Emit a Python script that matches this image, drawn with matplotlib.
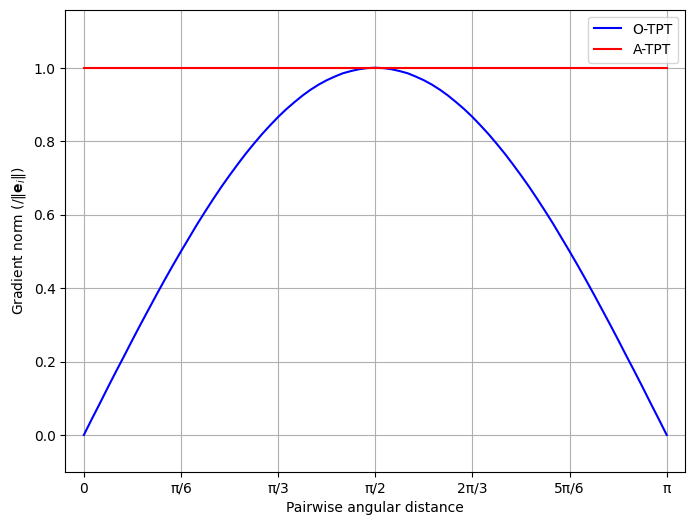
import numpy as np
import matplotlib.pyplot as plt

# ===========================
# DATA
# ===========================
angle_deg = [0, 2.5, 5, 7.5, 10, 12.5, 15, 17.5, 20, 22.5, 25, 27.5, 30, 32.5, 35, 37.5,
             40, 42.5, 45, 47.5, 50, 52.5, 55, 57.5, 60, 62.5, 65, 67.5, 70, 72.5, 75,
             77.5, 80, 82.5, 85, 87.5, 90,
             92.5, 95, 97.5, 100, 102.5, 105, 107.5, 110, 112.5, 115, 117.5, 120, 122.5,
             125, 127.5, 130, 132.5, 135, 137.5, 140, 142.5, 145, 147.5, 150, 152.5, 155,
             157.5, 160, 162.5, 165, 167.5, 170, 172.5, 175, 177.5, 180]
o_tpt = [0.000, 0.044, 0.087, 0.131, 0.174, 0.216, 0.259, 0.301, 0.342, 0.383, 0.423,
         0.462, 0.500, 0.537, 0.574, 0.609, 0.643, 0.676, 0.707, 0.737, 0.766, 0.793,
         0.819, 0.843, 0.866, 0.887, 0.906, 0.924, 0.940, 0.954, 0.966, 0.976, 0.985,
         0.991, 0.996, 0.999, 1.000,
         0.999, 0.996, 0.991, 0.985, 0.976, 0.966, 0.954, 0.940, 0.924, 0.906, 0.887,
         0.866, 0.843, 0.819, 0.793, 0.766, 0.737, 0.707, 0.676, 0.643, 0.609, 0.574,
         0.537, 0.500, 0.462, 0.423, 0.383, 0.342, 0.301, 0.259, 0.216, 0.174, 0.131,
         0.087, 0.044, 0.000]
a_tpt = [1.0] * len(angle_deg)

tick_deg = [0, 30, 60, 90, 120, 150, 180]
tick_labels = ["0", "π/6", "π/3", "π/2", "2π/3", "5π/6", "π"]

theta = np.deg2rad(angle_deg)

# ===========================
# PLOT
# ===========================
fig, ax = plt.subplots(figsize=(8, 6), dpi=100)
ax.plot(theta, o_tpt, color="blue", label="O-TPT")
ax.plot(theta, a_tpt, color="red", label="A-TPT")

ax.set_xticks(np.deg2rad(tick_deg))
ax.set_xticklabels(tick_labels)
ax.set_xlim(-0.1, np.pi + 0.1)
ax.set_ylim(-0.1, 1.158)

ax.set_xlabel("Pairwise angular distance")
ax.set_ylabel(r"Gradient norm (/$\|\mathbf{e}_i\|$)")
ax.grid(True)
ax.legend(loc="upper right")

fig.savefig("out.png", dpi=100, bbox_inches="tight")
